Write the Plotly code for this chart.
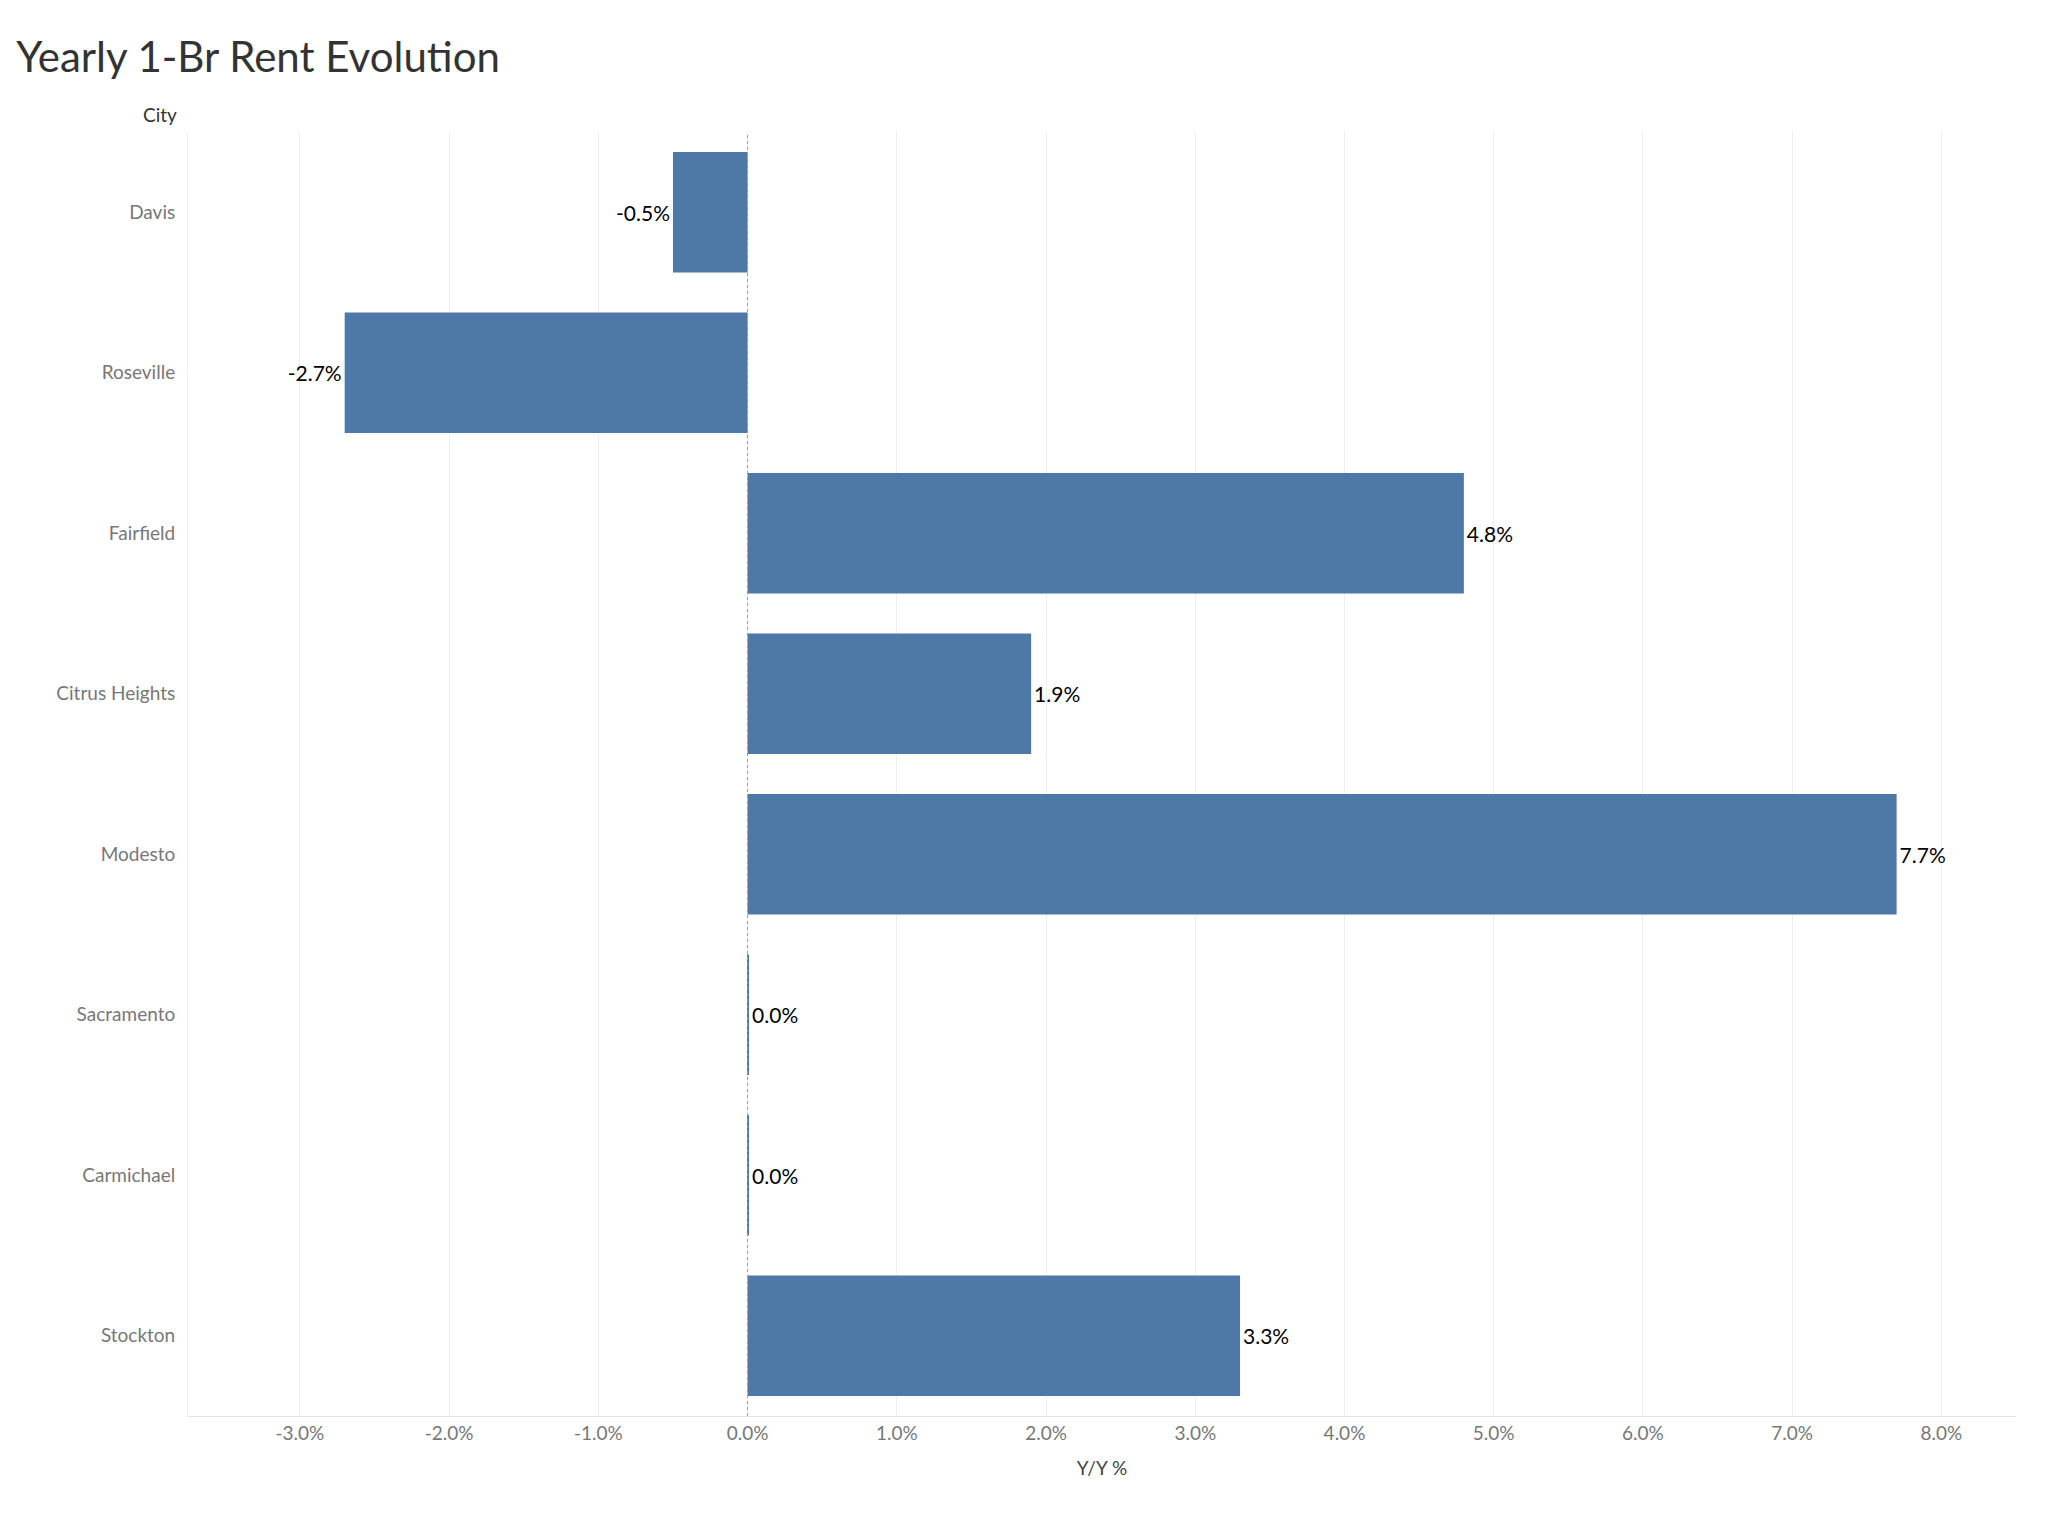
import plotly.graph_objects as go

cities = ["Davis", "Roseville", "Fairfield", "Citrus Heights", "Modesto", "Sacramento", "Carmichael", "Stockton"]
values = [-0.5, -2.7, 4.8, 1.9, 7.7, 0.01, 0.01, 3.3]
labels = ["-0.5%", "-2.7%", "4.8%", "1.9%", "7.7%", "0.0%", "0.0%", "3.3%"]
tick_vals = [-3, -2, -1, 0, 1, 2, 3, 4, 5, 6, 7, 8]
tick_text = [f"{v:.1f}%" for v in tick_vals]

fig = go.Figure(go.Bar(
    y=cities, x=values, orientation="h", width=0.75,
    marker=dict(color="#4e79a7", line=dict(width=0)),
    text=labels, textposition="outside", cliponaxis=False,
    textfont=dict(size=21, color="#000000", family="Lato"),
))
fig.add_vline(x=0, line=dict(color="#999999", width=1, dash="dot"))
fig.update_layout(
    width=2045, height=1514, plot_bgcolor="white", paper_bgcolor="white",
    margin=dict(l=180, r=37, t=124, b=106),
    font=dict(family="Lato", color="#777777"),
    showlegend=False,
    title=dict(text="Yearly 1-Br Rent Evolution", x=0.004, xanchor="left", y=0.977, yanchor="top",
               font=dict(size=42, color="#333333", family="Lato")),
    xaxis=dict(range=[-3.75, 8.5], tickvals=tick_vals, ticktext=tick_text,
               tickfont=dict(size=19, color="#777777"), showgrid=True, gridcolor="#efefef",
               zeroline=False, showline=True, linecolor="#e6e6e6", ticks="",
               title=dict(text="Y/Y %", font=dict(size=19, color="#444444"), standoff=18)),
    yaxis=dict(categoryorder="array", categoryarray=cities[::-1], autorange=True,
               tickfont=dict(size=19, color="#777777"), showgrid=False, ticks="outside",
               ticklen=8, tickcolor="white", showline=True, linecolor="#f0f0f0"),
    annotations=[dict(text="City", xref="paper", yref="paper", x=0, y=1.0, xanchor="right",
                      yanchor="bottom", xshift=-9, yshift=4, showarrow=False,
                      font=dict(size=19, color="#333333", family="Lato"))],
)
fig.write_html("out.html")
